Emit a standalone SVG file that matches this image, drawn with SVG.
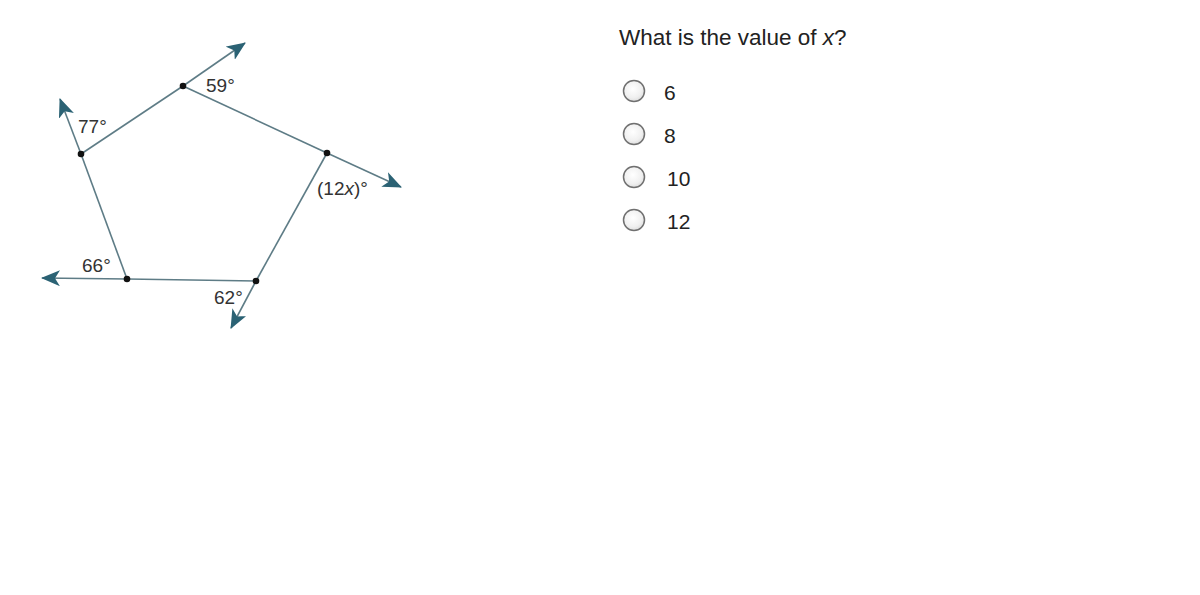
<svg xmlns="http://www.w3.org/2000/svg" width="1200" height="595" viewBox="0 0 1200 595">
<defs>
<marker id="arr" viewBox="0 0 19 16" refX="18" refY="8" markerWidth="19" markerHeight="16" markerUnits="userSpaceOnUse" orient="auto">
<path d="M0,0 L19,8 L0,16 L5,8 Z" fill="#2b6274"/>
</marker>
<radialGradient id="rg" cx="0.45" cy="0.4" r="0.7">
<stop offset="0" stop-color="#ffffff"/>
<stop offset="0.6" stop-color="#f0f0f0"/>
<stop offset="1" stop-color="#d4d4d4"/>
</radialGradient>
</defs>
<style>
.ln{stroke:#5e7c86;stroke-width:1.6;fill:none}
.ray{stroke:#5e7c86;stroke-width:1.6;fill:none;marker-end:url(#arr)}
.dot{fill:#111}
.lbl{font-family:"Liberation Sans",Arial,sans-serif;font-size:19px;fill:#333}
.q{font-family:"Liberation Sans",Arial,sans-serif;font-size:22.5px;fill:#222}
.o{font-family:"Liberation Sans",Arial,sans-serif;font-size:21px;fill:#222}
.rb{fill:url(#rg);stroke:#707070;stroke-width:1.5}
</style>
<rect width="1200" height="595" fill="#ffffff"/>
<g id="connectors">
<line class="ln" x1="183" y1="86" x2="81" y2="154"/>
<line class="ln" x1="183" y1="86" x2="327" y2="153"/>
<line class="ln" x1="327" y1="153" x2="256" y2="281"/>
<line class="ln" x1="256" y1="281" x2="127" y2="279"/>
<line class="ln" x1="127" y1="279" x2="81" y2="154"/>
<line class="ray" x1="183" y1="86" x2="245" y2="43"/>
<line class="ray" x1="81" y1="154" x2="60" y2="99"/>
<line class="ray" x1="327" y1="153" x2="401" y2="187"/>
<line class="ray" x1="127" y1="279" x2="42" y2="278"/>
<line class="ray" x1="256" y1="281" x2="231" y2="328"/>
</g>
<g id="vA"><circle class="dot" cx="183" cy="86" r="3.3"/><text class="lbl" x="206" y="92">59°</text></g>
<g id="vB"><circle class="dot" cx="81" cy="154" r="3.3"/><text class="lbl" x="78" y="133">77°</text></g>
<g id="vC"><circle class="dot" cx="327" cy="153" r="3.3"/><text class="lbl" x="317" y="195">(12<tspan font-style="italic">x</tspan>)°</text></g>
<g id="vD"><circle class="dot" cx="127" cy="279" r="3.3"/><text class="lbl" x="82" y="272">66°</text></g>
<g id="vE"><circle class="dot" cx="256" cy="281" r="3.3"/><text class="lbl" x="214" y="304">62°</text></g>
<g id="question">
<text class="q" x="619" y="45">What is the value of <tspan font-style="italic">x</tspan>?</text>
</g>
<g id="opt6"><circle class="rb" cx="634" cy="91" r="10.5"/><text class="o" x="664" y="100">6</text></g>
<g id="opt8"><circle class="rb" cx="634" cy="134" r="10.5"/><text class="o" x="664" y="143">8</text></g>
<g id="opt10"><circle class="rb" cx="634" cy="177" r="10.5"/><text class="o" x="667" y="186">10</text></g>
<g id="opt12"><circle class="rb" cx="634" cy="220" r="10.5"/><text class="o" x="667" y="229">12</text></g>
</svg>
